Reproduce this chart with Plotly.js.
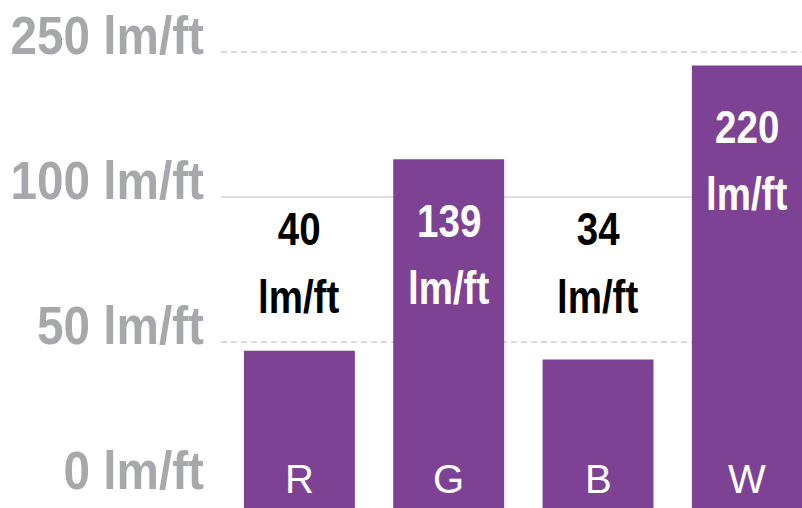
<!DOCTYPE html>
<html>
<head>
<meta charset="utf-8">
<script src="https://cdn.plot.ly/plotly-3.0.1.min.js"></script>
<style>
  html, body { margin: 0; padding: 0; background: #ffffff; }
  #chart { width: 802px; height: 508px; }
  .narrow-data { transform-box: fill-box; transform-origin: 50% 50%; transform: scaleX(0.82); }
  .narrow-tick { transform-box: fill-box; transform-origin: 100% 50%; transform: scaleX(0.9); }
</style>
</head>
<body>
<div id="chart"></div>
<script>
// ---- data ----
const categories = ["R", "G", "B", "W"];
const valueLabels = [40, 139, 34, 220];          // printed values (lm/ft)
const barHeights = [47, 139, 44, 236];           // bar tops as read against the drawn axis (lm/ft)
const tickValues = [0, 50, 100, 250];            // axis break values (lm/ft)
const tickLabels = ["0 lm/ft", "50 lm/ft", "100 lm/ft", "250 lm/ft"];
const unitText = "lm/ft";

// piecewise axis: each tick value occupies one equal step
function toSlot(v) {
  for (let i = 1; i < tickValues.length; i++) {
    if (v <= tickValues[i] || i === tickValues.length - 1) {
      const a = tickValues[i - 1], b = tickValues[i];
      return (i - 1) + (v - a) / (b - a);
    }
  }
}
const tickSlots = tickValues.map((_, i) => i);
const barSlots = barHeights.map(toSlot);

// ---- style ----
const purple = "#7E4295";
const grey = "#A7A8AC";
const boldFont = "Liberation Sans, Arial, sans-serif";
const yRange = [-0.145, 3.359];
const gridDash = [null, "6px,4px", "solid", "6px,4px"];

const trace = {
  type: "bar",
  x: categories,
  y: barSlots.map(s => s - yRange[0] + 0.05),
  base: yRange[0] - 0.05,
  marker: { color: purple, line: { width: 0 } },
  hoverinfo: "skip"
};

const annotations = [];
const outsideIdx = categories.map((_, i) => i).filter(i => barSlots[i] <= 2);
const outsideTop = Math.max(...outsideIdx.map(i => barSlots[i]));
categories.forEach((c, i) => {
  const inside = barSlots[i] > 2;
  const yRef = inside ? barSlots[i] : outsideTop;
  const col = inside ? "#FFFFFF" : "#000000";
  const f = { family: boldFont, size: 47, color: col, weight: "bold" };
  annotations.push({
    x: c, y: yRef, xref: "x", yref: "y",
    text: "<b>" + valueLabels[i] + "</b>", showarrow: false,
    xanchor: "center", yanchor: "middle",
    yshift: inside ? -61 : 122, font: f, name: "narrow"
  });
  annotations.push({
    x: c, y: yRef, xref: "x", yref: "y",
    text: "<b>" + unitText + "</b>", showarrow: false,
    xanchor: "center", yanchor: "middle",
    yshift: inside ? -128 : 54, font: f, name: "narrow"
  });
  // category name inside bar bottom
  annotations.push({
    x: c, y: 0, xref: "x", yref: "paper",
    text: c, showarrow: false,
    xanchor: "center", yanchor: "middle", yshift: 29,
    font: { family: "Liberation Sans, Arial, sans-serif", size: 40, color: "#FFFFFF" },
    name: "cat"
  });
});

const shapes = [];
tickSlots.forEach((s, i) => {
  if (!gridDash[i]) return;
  shapes.push({
    type: "line", xref: "paper", yref: "y",
    x0: 0, x1: 1, y0: s, y1: s, layer: "below",
    line: { color: gridDash[i] === "solid" ? "#D6D6D6" : "#CFCFCF", width: 1.5, dash: gridDash[i] }
  });
});

const layout = {
  width: 802, height: 508,
  margin: { l: 221, r: 0, t: 0, b: 0, pad: 0 },
  paper_bgcolor: "#FFFFFF", plot_bgcolor: "#FFFFFF",
  showlegend: false,
  bargap: 0.257,
  xaxis: {
    type: "category",
    range: [-0.525, 3.366],
    showticklabels: false, showgrid: false, zeroline: false, showline: false, ticks: ""
  },
  yaxis: {
    range: yRange,
    tickmode: "array", tickvals: tickSlots, ticktext: tickLabels,
    showgrid: false, zeroline: false, showline: false, ticks: "",
    ticklabelstandoff: 16, ticklabelshift: -17,
    tickfont: { family: boldFont, size: 53, color: grey, weight: "bold" }
  },
  shapes: shapes,
  annotations: annotations
};

function narrowText() {
  const gd = document.getElementById("chart");
  // condensed look (Arial Narrow style) for the bold labels
  gd.querySelectorAll("g.annotation").forEach((g, k) => {
    const ann = layout.annotations[k];
    if (ann && ann.name === "narrow") {
      const t = g.querySelector("text.annotation-text");
      if (t) t.classList.add("narrow-data");
    }
  });
  gd.querySelectorAll("g.ytick").forEach(g => g.classList.add("narrow-tick"));
}

Plotly.newPlot("chart", [trace], layout, { displayModeBar: false, staticPlot: true }).then(narrowText);
</script>
</body>
</html>
